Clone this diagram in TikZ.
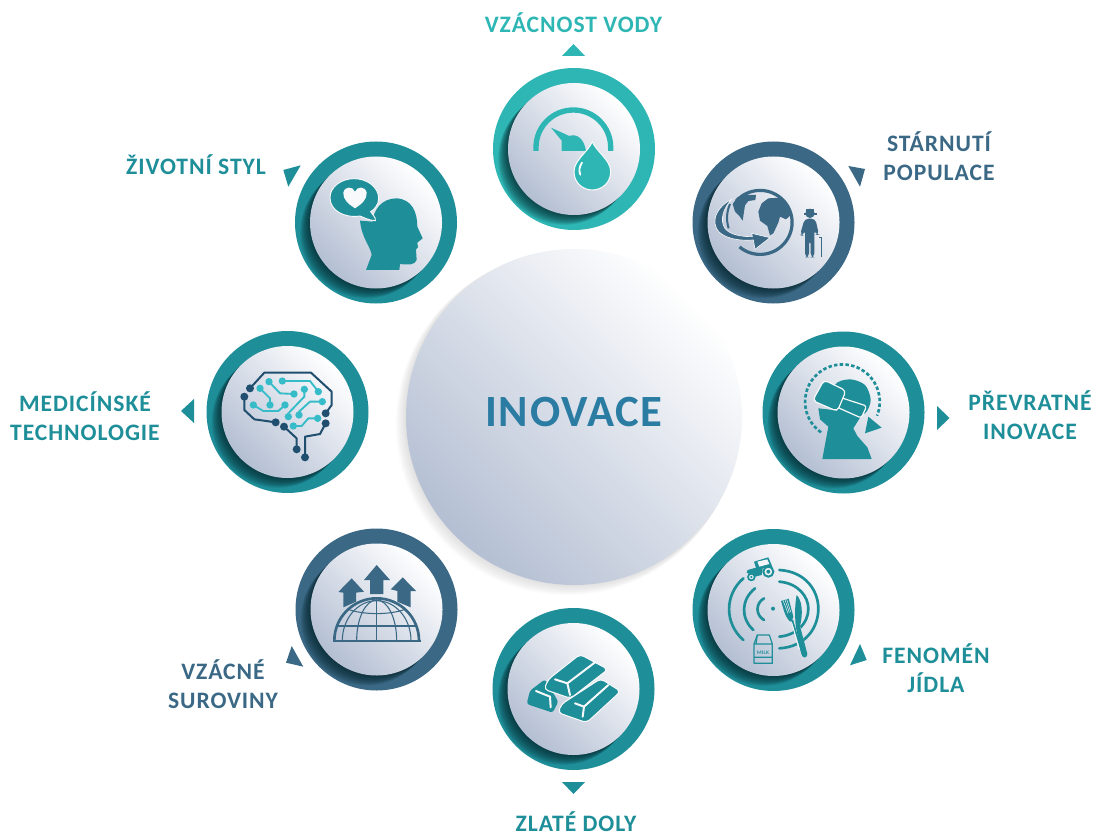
\documentclass[tikz,border=0pt]{standalone}
\usepackage{fontspec}
\setmainfont{Carlito}[LetterSpace=4]
\definecolor{turq}{HTML}{2EB6B5}
\definecolor{teal2}{HTML}{1E8E99}
\definecolor{navy2}{HTML}{3A6885}
\definecolor{inov}{HTML}{2A7CA3}
\definecolor{discl}{HTML}{B4BFD3}
\definecolor{shad}{HTML}{06262C}
\definecolor{brdark}{HTML}{1F4E6F}
\definecolor{brlight}{HTML}{35BCC8}
\tikzset{
  discshade/.style={bottom color=discl, top color=white, shading angle=-45},
  labeltext/.style={font=\bfseries\fontsize{17.7}{21.75}\selectfont, align=center, inner sep=0pt},
  brdk/.style={draw=brdark, line width=1.5pt, line join=round},
  brlt/.style={draw=brlight, line width=1.4pt, line join=round},
  brdot/.style={fill=brdark},
  brdol/.style={fill=brlight},
}
\newcommand{\ringdisc}[3]{%
  \begin{scope}[shift={(#1,#2)}]
    \fill[#3] (0,0) circle (81);
    \begin{scope}
      \clip (0,0) circle (81);
      \foreach \sh in {1,...,16}{\fill[shad,opacity=.075] (-\sh*.62,\sh*.62) circle (66);}
    \end{scope}
    \shade[discshade] (0,0) circle (66);
  \end{scope}}
\begin{document}
\begin{tikzpicture}[x=0.75pt,y=-0.75pt]
\useasboundingbox (0,0) rectangle (1095,834);
% centre disc
\foreach \sh in {1,...,12}{\fill[black!55,opacity=.02] (574-\sh*.6,417+\sh*.6) circle (168+\sh*.25);}
\shade[discshade] (574,417) circle (168);
\node[inner sep=0pt,text=inov,font=\bfseries\fontsize{33.5}{40}\selectfont] (centre) at (574,412.5) {INOVACE};

\ringdisc{574}{149}{turq}
\ringdisc{773.5}{222.5}{navy2}
\ringdisc{843.5}{412.5}{teal2}
\ringdisc{773.5}{610}{teal2}
\ringdisc{573.5}{689}{teal2}
\ringdisc{376.5}{609.5}{navy2}
\ringdisc{287.5}{412}{teal2}
\ringdisc{376}{222.5}{teal2}

% triangles
\fill[turq] (573.5,44) -- (585,56) -- (562,56) -- cycle;
\fill[navy2] (848.3,166) -- (865,169) -- (860,186.7) -- cycle;
\fill[teal2] (937,406) -- (949.5,418) -- (937,430) -- cycle;
\fill[teal2] (860,644) -- (866.7,660) -- (850,665.3) -- cycle;
\fill[teal2] (562,782) -- (585,782) -- (573.5,794) -- cycle;
\fill[navy2] (291.7,646) -- (303.3,666.7) -- (286,662.7) -- cycle;
\fill[teal2] (181,411) -- (194,399) -- (194,423) -- cycle;
\fill[teal2] (300.7,165.3) -- (283.3,170) -- (288.3,186.7) -- cycle;

% labels
\node[labeltext,text=turq] (l1) at (573.5,23) {VZÁCNOST VODY};
\node[labeltext,text=navy2] (l2) at (939,156.5) {STÁRNUTÍ\\POPULACE};
\node[labeltext,text=teal2] (l3) at (1030,415) {PŘEVRATNÉ\\INOVACE};
\node[labeltext,text=teal2] (l4) at (936,668) {FENOMÉN\\JÍDLA};
\node[labeltext,text=teal2] (l5) at (576,821.5) {ZLATÉ DOLY};
\node[labeltext,text=navy2] (l6) at (223,684.5) {VZÁCNÉ\\SUROVINY};
\node[labeltext,text=teal2] (l7) at (85,416.5) {MEDICÍNSKÉ\\TECHNOLOGIE};
\node[labeltext,text=teal2] (l8) at (196,165) {ŽIVOTNÍ STYL};

% icon 1: gauge + drop
\begin{scope}[shift={(480,0)},scale=1/3]
  \draw[turq,line width=4pt] (168,453) -- (168,442) arc (180:360:112) -- (392,453);
  \fill[turq] (213,383) -- (268,408) .. controls (290,400) and (312,415) .. (318,453) -- (245,453) -- (245,422) -- cycle;
  \filldraw[fill=turq,draw=white!90!discl,line width=.8pt] (337,425) .. controls (325,455) and (282,480) .. (282,515) .. controls (282,548) and (308,570) .. (337,570) .. controls (366,570) and (392,548) .. (392,515) .. controls (392,480) and (349,455) .. (337,425) -- cycle;
  \draw[white,line width=1.4pt,line cap=round] (306,488) .. controls (298,500) and (296,512) .. (301,524);
\end{scope}

% icon 2: globe + old man
\begin{scope}[shift={(680,130)},scale=1/3]
  \draw[navy2,line width=2.4pt] (169,213) arc (222:490:96);
  \fill[navy2] (235,245) -- (245,220) -- (265,205) -- (300,203) -- (322,225) -- (336,252) -- (318,268) -- (300,260) -- (295,278) -- (280,310) -- (270,316) -- (262,288) -- (240,272) -- cycle;
  \fill[navy2] (158,222) -- (172,202) -- (200,195) -- (228,195) -- (226,210) -- (205,213) -- (195,226) -- (192,245) -- (188,272) -- (178,258) -- (165,245) -- cycle;
  \draw[navy2,line width=1.5pt] (150,222) .. controls (140,245) and (138,270) .. (146,295);
  \filldraw[fill=navy2,draw=white!85!discl,line width=.5pt] (155,208) .. controls (100,235) and (85,295) .. (135,318) .. controls (160,330) and (190,332) .. (220,330) -- (225,358) -- (270,323) -- (215,310) -- (217,320) .. controls (185,320) and (150,315) .. (135,295) .. controls (118,270) and (130,235) .. (155,208) -- cycle;
  \fill[navy2] (390,250) circle (14);
  \fill[navy2] (372,250) rectangle (410,254);
  \fill[navy2] (378,236) rectangle (402,248);
  \fill[navy2,rounded corners=3pt] (374,266) -- (406,266) -- (417,315) -- (408,315) -- (403,298) -- (403,382) -- (392,382) -- (392,330) -- (387,330) -- (387,382) -- (375,382) -- (375,298) -- (370,318) -- (360,315) -- cycle;
  \draw[navy2,line width=1.2pt] (417,322) -- (424,322) -- (424,382);
\end{scope}

% icon 3: VR headset
\begin{scope}[shift={(750,320)},scale=1/3]
  \draw[teal2,line width=2pt,dash pattern=on 2.6pt off 1.7pt] (213,337) arc (125:382:112);
  \fill[teal2] (345,340) -- (395,323) -- (355,290) -- cycle;
  \fill[teal2] (205,265) -- (210,298) -- (235,320) -- (217,417) -- (365,417) -- (352,382) -- (322,348) -- (310,325) -- (332,290) -- (250,270) -- cycle;
  \fill[teal2] plot[smooth cycle] coordinates {(255,195) (300,178) (345,195) (362,240) (345,280) (300,285) (260,270)};
  \filldraw[fill=teal2,draw=white!90!discl,line width=.9pt,rounded corners=2pt] (270,232) -- (350,258) -- (334,294) -- (262,262) -- cycle;
  \filldraw[fill=teal2,draw=white!90!discl,line width=.9pt,rounded corners=3pt] (222,180) -- (288,212) -- (262,274) -- (188,242) -- cycle;
\end{scope}

% icon 4: food
\begin{scope}[shift={(680,520)},scale=1/3]
  \fill[teal2] (279,266) circle (6);
  \begin{scope}[teal2,line width=2pt,line cap=round]
    \draw (252,235) .. controls (226,250) and (226,285) .. (252,300);
    \draw (225,205) .. controls (182,240) and (182,295) .. (220,330);
    \draw (190,175) .. controls (133,225) and (133,310) .. (190,360);
    \draw (298,150) .. controls (380,155) and (415,215) .. (415,266) .. controls (415,320) and (380,380) .. (298,385);
    \draw (298,185) .. controls (355,190) and (385,230) .. (385,266) .. controls (385,310) and (350,345) .. (298,350);
  \end{scope}
  \draw[white!85!discl,line width=3.6pt,line cap=round] (355,325) -- (372,405);
  \draw[white!85!discl,line width=2.6pt,line cap=round] (340,310) -- (360,385);
  \fill[teal2] (350,225) .. controls (366,240) and (370,280) .. (360,318) -- (382,402) .. controls (382,416) and (366,416) .. (364,402) -- (347,318) .. controls (344,280) and (345,250) .. (350,225) -- cycle;
  \draw[teal2,line width=1.2pt] (337,300) -- (365,395);
  \fill[teal2] (303,243) -- (326,236) -- (340,290) -- (335,305) -- (328,303) .. controls (315,290) and (310,265) .. (303,243) -- cycle;
  \draw[white!85!discl,line width=.35pt] (309,241) -- (324,280) (315,239) -- (328,278) (320,237) -- (332,276);
  % tractor
  \fill[teal2] (222,125) -- (265,112) -- (277,140) -- (248,145) -- (245,165) -- (225,170) -- (200,158) -- (203,150) -- (228,143) -- cycle;
  \fill[white!85!discl] (232,125) -- (262,118) -- (268,132) -- (238,140) -- cycle;
  \draw[teal2,line width=1.5pt,fill=white!85!discl] (265,155) circle (15);
  \fill[teal2] (265,155) circle (6);
  \draw[teal2,line width=1.3pt,fill=white!85!discl] (214,171) circle (10);
  \fill[teal2] (214,171) circle (4);
  % carton
  \draw[teal2,line width=.9pt,line join=round] (222,430) -- (222,372) -- (232,345) -- (268,345) -- (277,372) -- (277,430) -- cycle;
  \draw[teal2,line width=.9pt] (222,372) -- (277,372) (222,412) -- (277,412) (232,345) -- (228,372);
  \node[inner sep=0pt,text=teal2,font=\bfseries\fontsize{4}{5}\selectfont] (milk) at (249,399) {MILK};
\end{scope}

% icon 5: gold bars
\begin{scope}[shift={(480,600)},scale=1/3]
  \fill[teal2,rounded corners=2pt] (195,238) -- (150,272) -- (140,312) -- (218,338) -- (235,305) -- cycle;
  \draw[white!90!discl,line width=1.5pt,line cap=round] (168,273) -- (210,290) -- (212,322);
  \filldraw[fill=teal2,draw=white!90!discl,line width=.8pt,rounded corners=3pt] (362,236) -- (422,274) -- (320,368) -- (234,338) -- (245,312) -- cycle;
  \draw[white!90!discl,line width=1.5pt,line cap=round] (385,255) -- (312,320) -- (285,310);
  \draw[white!90!discl,line width=1.5pt,line cap=round] (312,320) -- (308,350);
  \filldraw[fill=teal2,draw=white!90!discl,line width=.8pt,rounded corners=3pt] (300,163) -- (384,208) -- (272,295) -- (192,268) -- (205,238) -- cycle;
  \draw[white!90!discl,line width=1.5pt,line cap=round] (345,187) -- (262,250) -- (225,238);
  \draw[white!90!discl,line width=1.5pt,line cap=round] (262,250) -- (270,285);
\end{scope}

% icon 6: dome + arrows
\begin{scope}[shift={(280,520)},scale=1/3]
  \fill[navy2] (290,135) -- (330,180) -- (310,180) -- (310,222) -- (270,222) -- (270,180) -- (252,180) -- cycle;
  \fill[navy2] (215,175) -- (252,215) -- (228,218) -- (228,245) -- (190,262) -- (190,218) -- (175,216) -- cycle;
  \fill[navy2] (368,172) -- (408,213) -- (392,213) -- (392,262) -- (352,245) -- (352,213) -- (332,208) -- cycle;
  \draw[navy2,line width=2pt] (163,362) arc (180:360:127);
  \draw[navy2,line width=1.6pt] (160,362) -- (422,362);
  \begin{scope}[navy2,line width=.8pt]
    \draw (187,362) arc (180:360:103 and 120);
    \draw (230,362) arc (180:360:60 and 122);
    \draw (290,362) -- (290,238);
    \draw (168,318) -- (412,318);
    \draw (205,268) .. controls (250,285) and (330,285) .. (375,268);
  \end{scope}
\end{scope}

% icon 7: brain
\begin{scope}[shift={(195,330)},scale=1/3]
  \draw[brdk] (165,175) -- (208,128) -- (348,128) -- (410,185) -- (410,225) -- (392,250);
  \draw[brdk] (148,200) -- (148,240) -- (178,268) -- (242,277);
  \draw[brdk] (267,290) -- (305,325) -- (305,358);
  \draw[brdk] (392,280) -- (375,312) -- (330,320) -- (330,382);
  \foreach \px/\py in {165/175,392/250,148/200,242/277,267/290,305/358,392/280,330/382}{\fill[brdot] (\px,\py) circle (12);}
  \draw[brlt] (222,155) -- (255,190) -- (297,192);
  \draw[brlt] (262,153) -- (345,153) -- (370,185);
  \draw[brlt] (195,175) -- (225,205) -- (225,225);
  \draw[brlt] (175,225) -- (205,243) -- (250,243) -- (270,225);
  \draw[brlt] (328,178) -- (328,200) -- (280,250) -- (280,260);
  \draw[brlt] (382,215) -- (345,215) -- (312,245) -- (312,255);
  \draw[brlt] (368,265) -- (340,265) -- (320,288) -- (295,288);
  \foreach \px/\py in {222/155,297/192,262/153,370/185,195/175,225/225,175/225,270/225,328/178,280/260,382/215,312/255,368/265,295/288}{\fill[brdol] (\px,\py) circle (11);}
\end{scope}

% icon 8: head + heart bubble
\begin{scope}[shift={(280,130)},scale=1/3]
  \fill[teal2] (258,420) -- (275,375) .. controls (272,350) and (245,325) .. (240,272) -- (278,275) .. controls (280,240) and (305,205) .. (350,205) .. controls (395,208) and (412,245) .. (412,290) -- (428,325) -- (412,338) -- (414,352) -- (408,358) -- (410,390) .. controls (405,405) and (385,405) .. (360,402) -- (358,420) -- cycle;
  \filldraw[fill=teal2,draw=white!90!discl,line width=.7pt] (222,146) .. controls (262,146) and (296,172) .. (296,205) .. controls (296,222) and (285,238) .. (272,245) .. controls (278,255) and (288,262) .. (286,272) .. controls (270,272) and (250,262) .. (240,258) .. controls (190,265) and (150,240) .. (150,203) .. controls (150,172) and (182,146) .. (222,146) -- cycle;
  \fill[white!90!discl] (225,235) .. controls (205,222) and (188,208) .. (190,188) .. controls (194,168) and (218,168) .. (225,185) .. controls (232,168) and (256,168) .. (260,188) .. controls (262,208) and (245,222) .. (225,235) -- cycle;
\end{scope}
\end{tikzpicture}
\end{document}
